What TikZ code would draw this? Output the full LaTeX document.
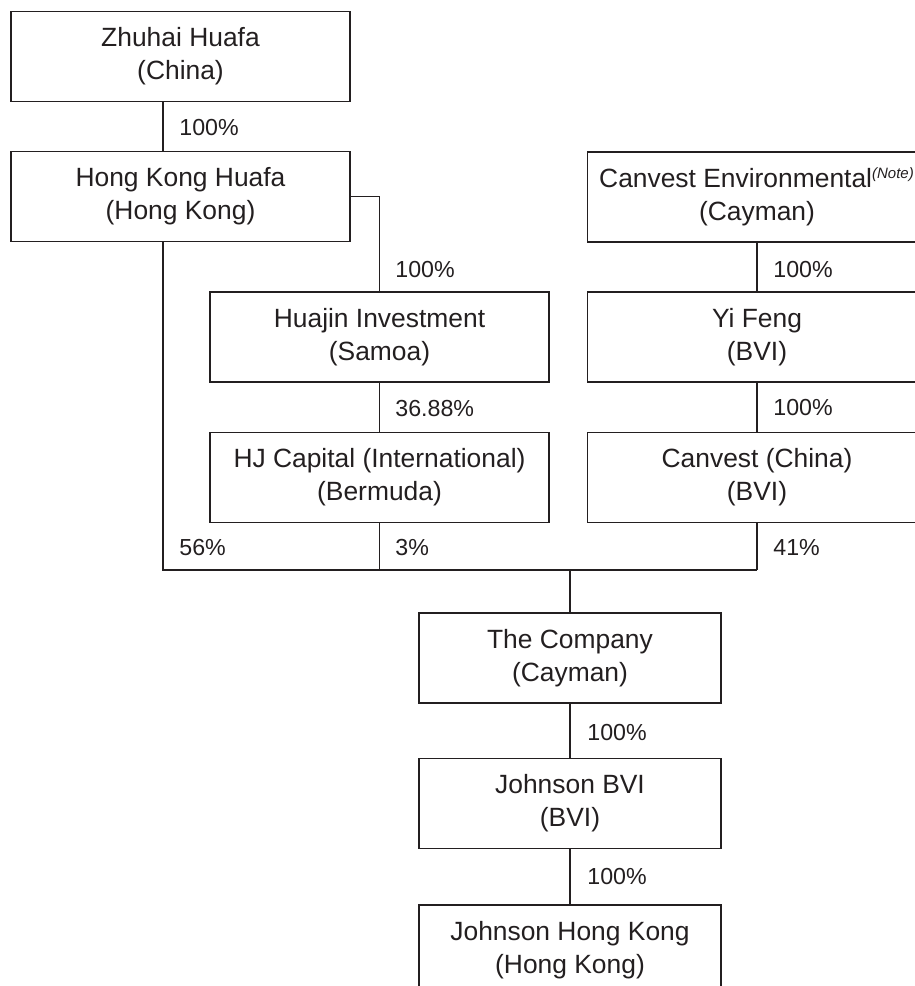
\documentclass[tikz,border=0pt]{standalone}
\usepackage{fontspec}
\setmainfont{Liberation Sans}
\usetikzlibrary{calc}
\definecolor{inkgray}{RGB}{35,31,32}

\begin{document}
\begin{tikzpicture}[x=0.5pt, y=-0.5pt,
	entity/.style={draw=inkgray, line width=0.6pt, text=inkgray, align=center, minimum height=45pt, inner sep=0pt, font=\fontsize{13.2}{16.5}\selectfont},
	wide/.style={entity, minimum width=169.5pt},
	narrow/.style={entity, minimum width=151pt},
	share/.style={anchor=west, text=inkgray, inner sep=0pt, font=\fontsize{11.6}{14}\selectfont},
	link/.style={draw=inkgray, line width=0.55pt}]
	%%%%% START %%%%%
	
	\useasboundingbox (0,0) rectangle (915,986);
	
	\node[wide] (zhuhai) at (180.5, 56.5) {Zhuhai Huafa\\(China)};
	\node[wide] (hkhuafa) at (180.5, 196.5) {Hong Kong Huafa\\(Hong Kong)};
	\node[wide] (canvestenv) at (757, 197) {Canvest Environmental\textsuperscript{\itshape\fontsize{7.5}{8}\selectfont (Note)}\\(Cayman)};
	
	\node[wide] (huajin) at (379.5, 337) {Huajin Investment\\(Samoa)};
	\node[wide] (yifeng) at (757, 337) {Yi Feng\\(BVI)};
	\node[wide] (hjcapital) at (379.5, 477.5) {HJ Capital (International)\\(Bermuda)};
	\node[wide] (canvestchina) at (757, 477.5) {Canvest (China)\\(BVI)};
	
	\node[narrow] (company) at (570, 658) {The Company\\(Cayman)};
	\node[narrow] (johnsonbvi) at (570, 803.5) {Johnson BVI\\(BVI)};
	\node[narrow] (johnsonhk) at (570, 950) {Johnson Hong Kong\\(Hong Kong)};
	
	\coordinate (spine) at (163, 570);
	\coordinate (merge) at (570, 570);
	
	\draw[link] (zhuhai.south -| spine) -- (hkhuafa.north -| spine);
	\draw[link] (hkhuafa.east) -| (huajin.north);
	\draw[link] (huajin.south) -- (hjcapital.north);
	\draw[link] (hkhuafa.south -| spine) -- (spine) -- (canvestchina.south |- spine);
	\draw[link] (hjcapital.south) -- (hjcapital.south |- spine);
	\draw[link] (canvestchina.south) -- (canvestchina.south |- spine);
	\draw[link] (merge) -- (company.north);
	
	\draw[link] (canvestenv.south) -- (yifeng.north);
	\draw[link] (yifeng.south) -- (canvestchina.north);
	\draw[link] (company.south) -- (johnsonbvi.north);
	\draw[link] (johnsonbvi.south) -- (johnsonhk.north);
	
	\node[share] (pzhuhai) at (179, 128) {100\%};
	\node[share] (phuajin) at (395, 270) {100\%};
	\node[share] (phjcapital) at (395, 409) {36.88\%};
	\node[share] (pleft) at (179, 548) {56\%};
	\node[share] (pmid) at (395, 548) {3\%};
	\node[share] (pyifeng) at (773, 270) {100\%};
	\node[share] (pcanvest) at (773, 408) {100\%};
	\node[share] (pright) at (773, 548) {41\%};
	\node[share] (pjohnsonbvi) at (587, 733) {100\%};
	\node[share] (pjohnsonhk) at (587, 877) {100\%};
	
	%%%%% END %%%%%
\end{tikzpicture}
\end{document}
